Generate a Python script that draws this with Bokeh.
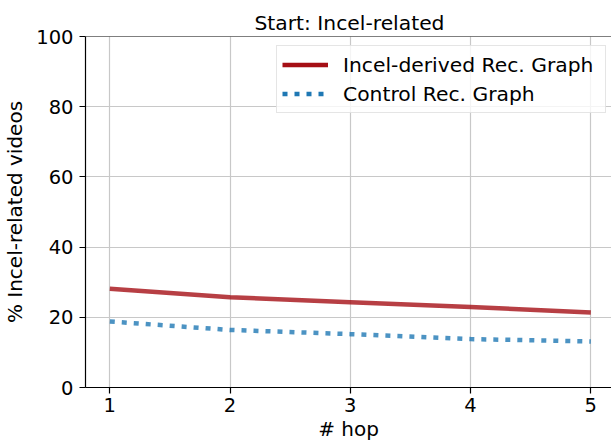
from bokeh.plotting import figure
from bokeh.models import Range1d, Span, Legend, LegendItem, FixedTicker
from bokeh.embed import file_html
from bokeh.resources import INLINE

# ---- data ----
hops = [1, 2, 3, 4, 5]
incel_rec = [28.1, 25.7, 24.3, 22.9, 21.4]
control_rec = [18.8, 16.4, 15.2, 13.8, 13.1]
x_ticks = [1, 2, 3, 4, 5]
y_ticks = [0, 20, 40, 60, 80, 100]
series_names = ["Incel-derived Rec. Graph", "Control Rec. Graph"]
title_text = "Start: Incel-related"
x_label = "# hop"
y_label = "% Incel-related videos"

FONT = "DejaVu Sans"
RED = "#a50f15"
BLUE = "#1f78b4"
DOT = "5 7"

p = figure(width=611, height=445,
           x_range=Range1d(0.798, 5.172), y_range=Range1d(0, 100),
           output_backend="svg", toolbar_location=None,
           min_border_left=84, min_border_right=0,
           min_border_top=36, min_border_bottom=58,
           title=title_text)
p.background_fill_color = "white"
p.border_fill_color = "white"
p.outline_line_color = None

p.title.text_font = FONT
p.title.text_font_size = "20.3px"
p.title.text_font_style = "normal"
p.title.text_color = "black"
p.title.align = "left"
p.title.offset = 169
p.title.standoff = 4

for ax in (p.xaxis[0], p.yaxis[0]):
    ax.axis_line_color = "black"
    ax.axis_line_width = 1.2
    ax.major_tick_line_color = "black"
    ax.major_tick_line_width = 1.2
    ax.major_tick_out = 6
    ax.major_tick_in = 0
    ax.minor_tick_line_color = None
    ax.major_label_text_font = FONT
    ax.major_label_text_font_size = "19.5px"
    ax.major_label_text_color = "black"
    ax.axis_label_text_font = FONT
    ax.axis_label_text_font_size = "20px"
    ax.axis_label_text_font_style = "normal"
    ax.axis_label_text_color = "black"

p.xaxis.ticker = FixedTicker(ticks=x_ticks)
p.yaxis.ticker = FixedTicker(ticks=y_ticks)
p.xaxis.axis_label = x_label
p.yaxis.axis_label = y_label
p.xaxis.major_label_standoff = 4
p.xaxis.axis_label_standoff = 2
p.yaxis.major_label_standoff = 6
p.yaxis.axis_label_standoff = 6

for g in (p.xgrid[0], p.ygrid[0]):
    g.grid_line_color = "#c8c8c8"
    g.grid_line_width = 1.2

p.add_layout(Span(location=y_ticks[-1], dimension="width",
                  line_color="black", line_width=1.2))

p.line(hops, incel_rec, line_color=RED, line_alpha=0.8, line_width=4.5)
p.line(hops, control_rec, line_color=BLUE, line_alpha=0.8, line_width=4.5,
       line_dash=DOT)

# hidden twins at full opacity, used only for the legend swatches
l1 = p.line(hops, incel_rec, line_color=RED, line_width=4.5, visible=False)
l2 = p.line(hops, control_rec, line_color=BLUE, line_width=4.5,
            line_dash=DOT, visible=False)

legend = Legend(items=[LegendItem(label=series_names[0], renderers=[l1]),
                       LegendItem(label=series_names[1], renderers=[l2])],
                location=(191, 274), margin=0, padding=5, spacing=2,
                glyph_width=46, glyph_height=27, label_height=27,
                label_width=257, label_standoff=15, label_text_font=FONT,
                label_text_font_size="20.3px", label_text_color="black",
                border_line_color="#cccccc", border_line_width=1.2,
                background_fill_color="white", background_fill_alpha=0.8,
                inactive_fill_alpha=0.0)
p.add_layout(legend)

open("out.html", "w").write(file_html(p, INLINE))
